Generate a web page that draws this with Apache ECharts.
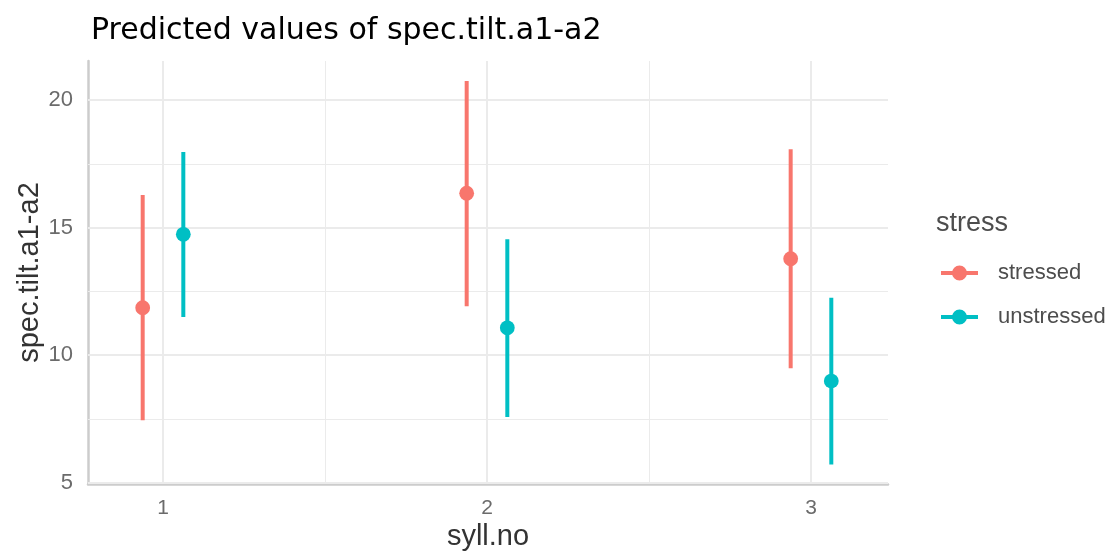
<!DOCTYPE html>
<html>
<head>
<meta charset="utf-8">
<script src="https://cdn.jsdelivr.net/npm/echarts@6/dist/echarts.min.js"></script>
<style>html,body{margin:0;padding:0;background:#fff}#c{width:1109px;height:551px}</style>
</head>
<body>
<div id="c"></div>
<script>
// ---- data ----
const categories = [1, 2, 3];                 // syll.no
const groups = ['stressed', 'unstressed'];    // stress
const stressedMid  = [11.86, 16.35, 13.78];
const stressedLow  = [7.44, 11.92, 9.48];
const stressedHigh = [16.28, 20.76, 18.08];
const unstressedMid  = [14.74, 11.07, 8.98];
const unstressedLow  = [11.49, 7.57, 5.71];
const unstressedHigh = [17.97, 14.54, 12.25];
const yTicks = [5, 10, 15, 20];
const yMinorTicks = [7.5, 12.5, 17.5];
const xTicks = [1, 2, 3];
const xMinorTicks = [1.5, 2.5];

// ---- style ----
const colors = ['#F8766D', '#00BFC4'];
const dodge = 0.0627;
const fontBase = 'Liberation Sans, Arial, sans-serif';

function build(mid, low, high, off) {
  return categories.map((c, i) => [c + off, low[i], mid[i], high[i]]);
}

function errSeries(name, color, data) {
  return {
    name: name,
    type: 'custom',
    itemStyle: { color: color },
    encode: { x: 0, y: [1, 2, 3] },
    data: data,
    z: 5,
    renderItem: function (params, api) {
      const x = api.value(0);
      const pLo = api.coord([x, api.value(1)]);
      const pMid = api.coord([x, api.value(2)]);
      const pHi = api.coord([x, api.value(3)]);
      return {
        type: 'group',
        children: [
          { type: 'line', shape: { x1: pLo[0], y1: pLo[1], x2: pHi[0], y2: pHi[1] },
            style: { stroke: color, lineWidth: 4, lineCap: 'butt' } },
          { type: 'circle', shape: { cx: pMid[0], cy: pMid[1], r: 7.4 },
            style: { fill: color } }
        ]
      };
    }
  };
}

const gridLine = (w) => ({ color: '#EBEBEB', width: w, type: 'solid' });
const markData = []
  .concat(yTicks.map(v => ({ yAxis: v, lineStyle: gridLine(2) })))
  .concat(yMinorTicks.map(v => ({ yAxis: v, lineStyle: gridLine(1) })))
  .concat(xTicks.map(v => ({ xAxis: v, lineStyle: gridLine(2) })))
  .concat(xMinorTicks.map(v => ({ xAxis: v, lineStyle: gridLine(1) })));

const legendIcon = 'path://M0,5.5 H37 V9.5 H0 Z M11,7.5 A7.5,7.5 0 1,1 26,7.5 A7.5,7.5 0 1,1 11,7.5 Z';

const option = {
  animation: false,
  backgroundColor: '#ffffff',
  title: [
    { text: 'Predicted values of spec.tilt.a1-a2', left: 86, top: 11,
      textStyle: { fontFamily: 'DejaVu Sans, sans-serif', fontSize: 30, fontWeight: 'normal', color: '#000000' } },
    { text: 'stress', left: 931, top: 205,
      textStyle: { fontFamily: fontBase, fontSize: 27, fontWeight: 'normal', color: '#4D4D4D' } }
  ],
  legend: {
    data: groups,
    orient: 'vertical',
    left: 936, top: 257,
    itemWidth: 37, itemHeight: 15, itemGap: 22,
    icon: legendIcon,
    textStyle: { fontFamily: fontBase, fontSize: 22, color: '#4D4D4D', padding: [0, 0, 0, 15] },
    selectedMode: false
  },
  grid: { left: 88, right: 221, top: 61, bottom: 67, containLabel: false, outerBoundsMode: 'none' },
  xAxis: {
    type: 'value', min: 0.7685, max: 3.2377,
    name: 'syll.no', nameLocation: 'middle', nameGap: 38, nameMoveOverlap: false,
    nameTextStyle: { fontFamily: fontBase, fontSize: 29, color: '#333333' },
    axisLine: { show: true, lineStyle: { color: '#CCCCCC', width: 2.5 } },
    axisTick: { show: false },
    splitLine: { show: false },
    axisLabel: { customValues: xTicks, fontFamily: fontBase, fontSize: 21, color: '#6B6B6B', margin: 14 }
  },
  yAxis: {
    type: 'value', min: 4.94, max: 21.54,
    name: 'spec.tilt.a1-a2', nameLocation: 'middle', nameGap: 44, nameMoveOverlap: false,
    nameTextStyle: { fontFamily: fontBase, fontSize: 29, color: '#333333' },
    axisLine: { show: true, lineStyle: { color: '#CCCCCC', width: 2.5 } },
    axisTick: { show: false },
    splitLine: { show: false },
    axisLabel: { customValues: yTicks, fontFamily: fontBase, fontSize: 22, color: '#6B6B6B', margin: 15 }
  },
  series: [
    { type: 'line', data: [], silent: true, z: 0,
      markLine: { silent: true, symbol: 'none', label: { show: false }, animation: false, data: markData } },
    errSeries(groups[0], colors[0], build(stressedMid, stressedLow, stressedHigh, -dodge)),
    errSeries(groups[1], colors[1], build(unstressedMid, unstressedLow, unstressedHigh, dodge))
  ]
};

echarts.init(document.getElementById('c'), null, { renderer: 'canvas' }).setOption(option);
</script>
</body>
</html>
